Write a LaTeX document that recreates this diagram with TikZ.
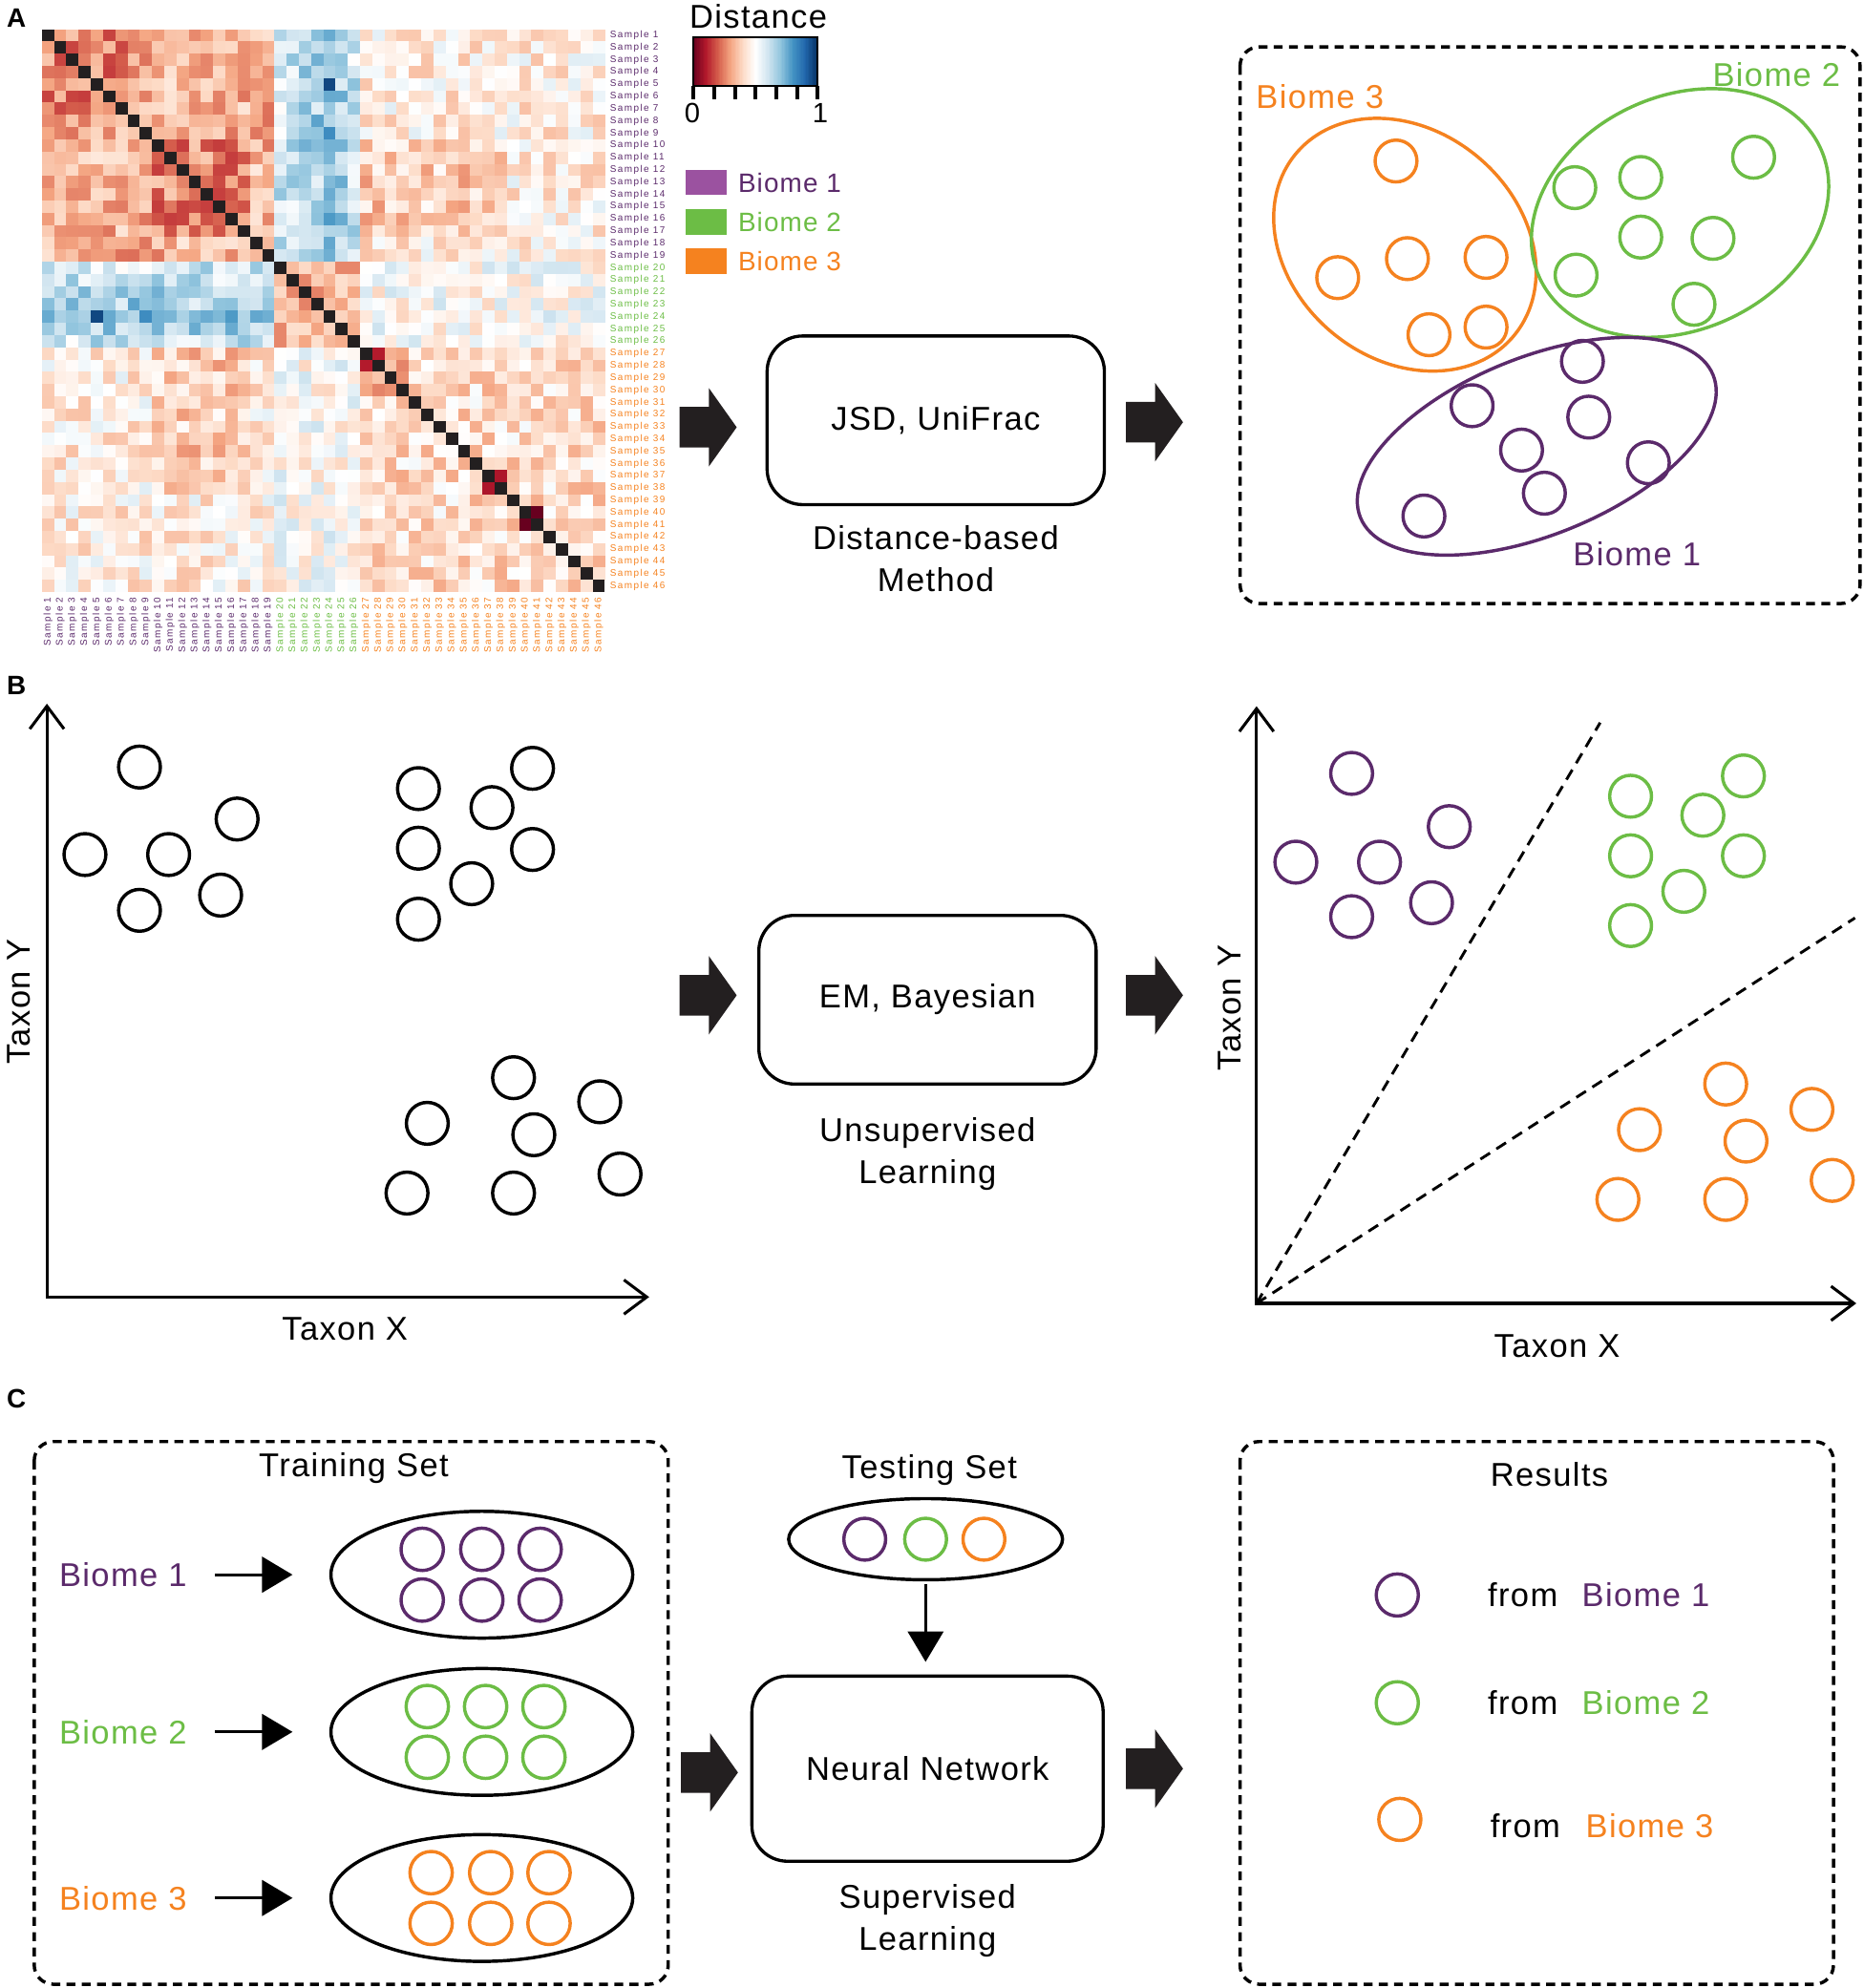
\documentclass[tikz,border=0pt]{standalone}
\usepackage{fontspec}
\setmainfont[LetterSpace=4]{Liberation Sans}
\newfontfamily\samplefont[LetterSpace=14]{Liberation Sans}
\usetikzlibrary{positioning,arrows.meta,shapes.geometric}

\definecolor{bpurple}{HTML}{5B2A6B}
\definecolor{bpurplebox}{HTML}{9B52A0}
\definecolor{bgreen}{HTML}{6CBD45}
\definecolor{borange}{HTML}{F5821F}
\definecolor{hmblack}{HTML}{231F20}
% red / blue stops of the distance scale
\colorlet{hmra}{white}
\definecolor{hmrb}{HTML}{FDDBC7}
\definecolor{hmrc}{HTML}{F4A582}
\definecolor{hmrd}{HTML}{D6604D}
\definecolor{hmre}{HTML}{B2182B}
\definecolor{hmrf}{HTML}{67001F}
\colorlet{hmba}{white}
\definecolor{hmbb}{HTML}{D1E5F0}
\definecolor{hmbc}{HTML}{92C5DE}
\definecolor{hmbd}{HTML}{4393C3}
\definecolor{hmbe}{HTML}{2166AC}
\definecolor{hmbf}{HTML}{053061}

\def\hmcell{9.652}
% value in [-1,1] -> colour hmc (negative = red, positive = blue)
\newcommand\hmcolor[1]{%
  \pgfmathsetmacro\hms{max(-0.999,min(0.999,#1))}%
  \pgfmathsetmacro\hmt{abs(\hms)*5}%
  \pgfmathtruncatemacro\hmk{\hmt}%
  \pgfmathtruncatemacro\hmp{(\hmt-\hmk)*100}%
  \ifdim\hms pt<0pt \def\hmside{r}\else\def\hmside{b}\fi
  \edef\hmhi{hm\hmside\ifcase\hmk b\or c\or d\or e\else f\fi}%
  \edef\hmlo{hm\hmside\ifcase\hmk a\or b\or c\or d\else e\fi}%
  \colorlet{hmc}{\hmhi!\hmp!\hmlo}}
\newcommand\hmgroup[1]{\ifnum#1<20 1\else\ifnum#1<27 2\else 3\fi\fi}
% block means of the distance matrix, #1 < #2
\newcommand\hmbase[2]{%
  \edef\hmgg{\hmgroup{#1}\hmgroup{#2}}%
  \def\hmb{0.0}%
  \ifnum\hmgg=11 \def\hmb{-0.34}%
    \ifnum#2<8 \def\hmb{-0.48}\fi
    \ifnum#1>9 \ifnum#2<18 \def\hmb{-0.48}\fi\fi
  \fi
  \ifnum\hmgg=12 \def\hmb{0.2}%
    \ifnum#2>21 \ifnum#2<26 \def\hmb{0.32}\fi\fi
    \ifnum#2=24 \def\hmb{0.44}\fi
  \fi
  \ifnum\hmgg=13 \def\hmb{-0.08}%
    \ifnum#1>9 \ifnum#1<18 \ifnum#2<39 \def\hmb{-0.24}\fi\fi\fi
  \fi
  \ifnum\hmgg=22 \def\hmb{-0.3}\fi
  \ifnum\hmgg=33 \def\hmb{-0.17}\ifnum#2<31 \def\hmb{-0.34}\fi\fi
  \ifnum#1=27 \ifnum#2=28 \def\hmb{-0.95}\fi\fi
  \ifnum#1=40 \ifnum#2=41 \def\hmb{-0.95}\fi\fi
  \ifnum#1=37 \ifnum#2=38 \def\hmb{-0.8}\fi\fi
  \ifnum#1=5 \ifnum#2=24 \def\hmb{0.95}\fi\fi}
\newcommand\samplecol[1]{\ifnum#1<20 \color{bpurple}\else\ifnum#1<27 \color{bgreen}\else\color{borange}\fi\fi}

\tikzset{blockarrow/.pic={\fill[hmblack] (0,-16) -- (23,-16) -- (23,-31) -- (45,0) -- (23,31) -- (23,16) -- (0,16) -- cycle;}}

\begin{document}
\begin{tikzpicture}[x=1pt,y=-1pt,
    every node/.style={font=\fontsize{26}{33}\selectfont, inner sep=0pt},
    panellab/.style={font=\bfseries\fontsize{21}{24}\selectfont},
    samplelab/.style={font=\samplefont\fontsize{7.5}{8}\selectfont},
    caption/.style={align=center},
    methodbox/.style={draw, line width=2.5pt, rounded corners=28pt, minimum width=266, minimum height=133},
    ring/.style={line width=2.6pt},
    dashbox/.style={draw, line width=2.6pt, dash pattern=on 7pt off 5pt, rounded corners=15pt},
    axisline/.style={line width=2.3pt, {Straight Barb[length=18pt,width=27pt]}-{Straight Barb[length=18pt,width=27pt]}},
    sepline/.style={line width=2.2pt, dash pattern=on 9pt off 6pt},
    trainell/.style={draw, ellipse, line width=2.6pt, minimum width=238, minimum height=100},
    trainarr/.style={line width=2.3pt, -{Triangle[length=24pt,width=28pt]}},
  ]
  \useasboundingbox (0,0) rectangle (1470,1568);

  % ---------------- A ----------------
  \node[panellab] (pa) at (13,14) {A};
  \pgfmathsetseed{11}
  \foreach \i in {1,...,46}{
    \foreach \j in {\i,...,46}{
      \ifnum\i=\j
        \fill[hmblack] ({33+(\i-1)*\hmcell},{23+(\i-1)*\hmcell}) rectangle +(\hmcell,\hmcell);
      \else
        \hmbase{\i}{\j}
        \hmcolor{\hmb+0.44*(rnd-0.5)}
        \fill[hmc] ({33+(\j-1)*\hmcell},{23+(\i-1)*\hmcell}) rectangle +({\hmcell+0.3},{\hmcell+0.3});
        \fill[hmc] ({33+(\i-1)*\hmcell},{23+(\j-1)*\hmcell}) rectangle +({\hmcell+0.3},{\hmcell+0.3});
      \fi
    }
  }
  \foreach \k in {1,...,46}{
    \node[samplelab, anchor=west] (rowlab\k) at (481,{23+(\k-0.5)*\hmcell}) {\samplecol{\k}Sample \k};
    \node[samplelab, anchor=east, rotate=90] (collab\k) at ({33+(\k-0.5)*\hmcell},471) {\samplecol{\k}Sample \k};
  }

  % colour bar
  \node (disttitle) at (598,13) {Distance};
  \foreach \n in {0,...,97}{
    \hmcolor{-1+2*(\n+0.5)/98}
    \fill[hmc] (547+\n,29) rectangle +(1.2,39);
  }
  \draw[line width=1.5pt] (547,29) rectangle (645,68);
  \foreach \n in {0,...,6}
    \draw[line width=3pt] ({547+\n*98/6},68) -- +(0,10);
  \node[font=\fontsize{22}{24}\selectfont] (tick0) at (546,89) {0};
  \node[font=\fontsize{22}{24}\selectfont] (tick1) at (647,89) {1};

  % legend
  \fill[bpurplebox] (541,134) rectangle (573,154);
  \fill[bgreen] (541,165) rectangle (573,185);
  \fill[borange] (541,196) rectangle (573,216);
  \node[anchor=west, text=bpurple, font=\fontsize{21}{24}\selectfont] (leg1) at (582,144) {Biome 1};
  \node[anchor=west, text=bgreen, font=\fontsize{21}{24}\selectfont] (leg2) at (582,175) {Biome 2};
  \node[anchor=west, text=borange, font=\fontsize{21}{24}\selectfont] (leg3) at (582,206) {Biome 3};

  \pic (arrA1) at (536,337) {blockarrow};
  \node[methodbox] (jsd) at (738,331.5) {JSD, UniFrac};
  \node[caption, below=15pt of jsd] (jsdcap) {Distance-based\\Method};
  \pic (arrA2) at (888,333) {blockarrow};

  \draw[dashbox] (978,37) rectangle (1467,476);
  \draw[ring, borange, rotate around={-40:(1108,193)}] (1108,193) ellipse [x radius=112, y radius=90];
  \draw[ring, bgreen, rotate around={25:(1325,168)}] (1325,168) ellipse [x radius=122, y radius=92];
  \draw[ring, bpurple, rotate around={22:(1212,352)}] (1212,352) ellipse [x radius=150, y radius=70];
  \foreach \p in {(1101,127),(1055,219),(1110,204),(1172,203),(1127,264),(1172,258)}
    \draw[ring, borange] \p circle [radius=16.5];
  \foreach \p in {(1242,148),(1294,140),(1383,124),(1294,187),(1351,188),(1243,217),(1336,240)}
    \draw[ring, bgreen] \p circle [radius=16.5];
  \foreach \p in {(1248,285),(1161,320),(1253,329),(1200,355),(1300,365),(1218,389),(1123,407)}
    \draw[ring, bpurple] \p circle [radius=16.5];
  \node[text=borange] (cl3) at (1041,76) {Biome 3};
  \node[text=bgreen] (cl2) at (1401,59) {Biome 2};
  \node[text=bpurple] (cl1) at (1291,437) {Biome 1};

  % ---------------- B ----------------
  \node[panellab] (pb) at (13,541) {B};
  \coordinate (bl0) at (37,1023);
  \coordinate (blY) at (37,555);
  \coordinate (blX) at (512,1023);
  \draw[axisline] (blY) -- (bl0) -- (blX);
  \node[rotate=90] (blty) at (15,790) {Taxon Y};
  \node (bltx) at (272,1048) {Taxon X};
  \foreach \p in {(110,605),(187,646),(67,674),(133,674),(110,718),(174,706),
                  (330,622),(388,637),(420,606),(330,669),(420,670),(372,697),(330,725),
                  (405,850),(473,869),(337,886),(421,895),(489,926),(321,941),(405,941)}
    \draw[ring] \p circle [radius=16.5];

  \pic (arrB1) at (536,785) {blockarrow};
  \node[methodbox] (em) at (731.5,788.5) {EM, Bayesian};
  \node[caption, below=25pt of em] (emcap) {Unsupervised\\Learning};
  \pic (arrB2) at (888,785) {blockarrow};

  \coordinate (br0) at (991,1028);
  \coordinate (brY) at (991,557);
  \coordinate (brX) at (1464,1028);
  \coordinate (cut1) at (1262,570);
  \coordinate (cut2) at (1463,724);
  \draw[axisline] (brY) -- (br0) -- (brX);
  \draw[sepline] (br0) -- (cut1);
  \draw[sepline] (br0) -- (cut2);
  \node[rotate=90] (brty) at (970,795) {Taxon Y};
  \node (brtx) at (1228,1062) {Taxon X};
  \foreach \p in {(1066,610),(1143,652),(1022,680),(1088,680),(1066,723),(1129,712)}
    \draw[ring, bpurple] \p circle [radius=16.5];
  \foreach \p in {(1286,628),(1343,643),(1375,612),(1286,675),(1375,675),(1328,703),(1286,730)}
    \draw[ring, bgreen] \p circle [radius=16.5];
  \foreach \p in {(1361,855),(1429,875),(1293,891),(1377,900),(1445,931),(1276,946),(1361,946)}
    \draw[ring, borange] \p circle [radius=16.5];

  % ---------------- C ----------------
  \node[panellab] (pc) at (13,1103) {C};
  \draw[dashbox] (27,1137) rectangle (527,1565);
  \node[text depth=0pt] (trainlab) at (279,1155) {Training Set};
  \node[text=bpurple] (tr1) at (97,1242) {Biome 1};
  \node[text=bgreen] (tr2) at (97,1366) {Biome 2};
  \node[text=borange] (tr3) at (97,1497) {Biome 3};
  \node[trainell] (set1) at (380,1242) {};
  \node[trainell] (set2) at (380,1366) {};
  \node[trainell] (set3) at (380,1497) {};
  \draw[trainarr, shorten <=22pt, shorten >=29pt] (tr1.east) -- (set1.west);
  \draw[trainarr, shorten <=22pt, shorten >=29pt] (tr2.east) -- (set2.west);
  \draw[trainarr, shorten <=22pt, shorten >=29pt] (tr3.east) -- (set3.west);
  \foreach \cx in {333,380,426} \foreach \cy in {1222,1262}
    \draw[ring, bpurple] (\cx,\cy) circle [radius=16.7];
  \foreach \cx in {337,383,429} \foreach \cy in {1346,1386}
    \draw[ring, bgreen] (\cx,\cy) circle [radius=16.7];
  \foreach \cx in {340,387,433} \foreach \cy in {1477,1517}
    \draw[ring, borange] (\cx,\cy) circle [radius=16.7];

  \pic (arrC1) at (537,1398) {blockarrow};
  \node[text depth=0pt] (testlab) at (733,1157) {Testing Set};
  \node[trainell, minimum width=216, minimum height=64] (test) at (730,1214) {};
  \draw[ring, bpurple] (682,1214) circle [radius=16.5];
  \draw[ring, bgreen] (730,1214) circle [radius=16.5];
  \draw[ring, borange] (776,1214) circle [radius=16.5];
  \node[methodbox, minimum width=277, minimum height=146] (nn) at (731.5,1395) {Neural Network};
  \node[caption, below=17pt of nn] (nncap) {Supervised\\Learning};
  \draw[trainarr, shorten <=2pt, shorten >=10pt] (test.south) -- (test.south |- nn.north);
  \pic (arrC2) at (888,1395) {blockarrow};

  \draw[dashbox] (978,1137) rectangle (1446,1565);
  \node (reslab) at (1222,1163) {Results};
  \draw[ring, bpurple] (1102,1258) circle [radius=16.6];
  \draw[ring, bgreen] (1102,1343) circle [radius=16.6];
  \draw[ring, borange] (1104,1435) circle [radius=16.6];
  \node (from1) at (1201,1258) {from};
  \node (from2) at (1201,1343) {from};
  \node (from3) at (1203,1440) {from};
  \node[text=bpurple] (res1) at (1298,1258) {Biome 1};
  \node[text=bgreen] (res2) at (1298,1343) {Biome 2};
  \node[text=borange] (res3) at (1301,1440) {Biome 3};
\end{tikzpicture}
\end{document}
